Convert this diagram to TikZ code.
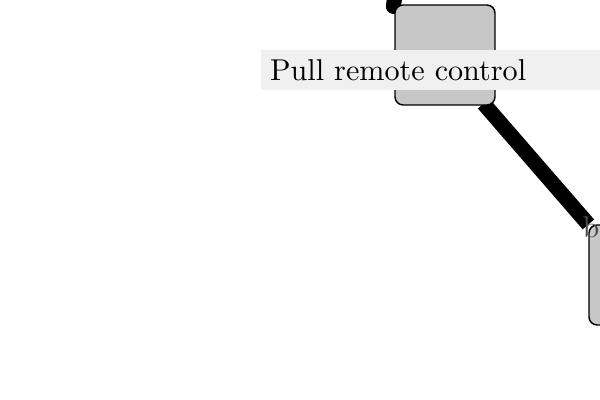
\documentclass[tikz,border=0pt]{standalone}
\begin{document}
\begin{tikzpicture}[x=0.345pt, y=-0.345pt, font=\fontsize{10.4}{12.5}\selectfont]
  \useasboundingbox (0, 0) rectangle (600, 400);
  % Links
  \coordinate (c-top) at (397, -20);
  \node (s-1) [rectangle, minimum height=34.5pt, minimum width=34.5pt] at (445, 55) {};
  \node (s-2) [rectangle, minimum height=34.5pt, minimum width=34.5pt] at (639, 275) {};
  \draw[line width=5.2pt, line cap=round] (c-top) -- ([shift={(-1, 2)}]s-1.north west);
  \draw[line width=5.2pt] ([shift={(-12, -2)}]s-1.south east) -- (s-2.north west);
  % Nodes
  \node (b-1) [rectangle, draw, rounded corners=2.8pt, fill=black!22, line width=0.5pt, minimum height=34.5pt, minimum width=34.5pt] at (s-1) {};
  \node (b-2) [rectangle, draw, rounded corners=2.8pt, fill=black!22, line width=0.5pt, minimum height=34.5pt, minimum width=34.5pt] at (s-2) {};
  \node (l-pull) [anchor=west, fill=black!6, text width=130pt, inner xsep=3.3pt, minimum height=13.8pt, align=left] at (260, 70) {Pull remote control};
  \node (l-b) [anchor=north west, inner sep=0pt, text=black!70] at (582, 216) {b};
\end{tikzpicture}
\end{document}
